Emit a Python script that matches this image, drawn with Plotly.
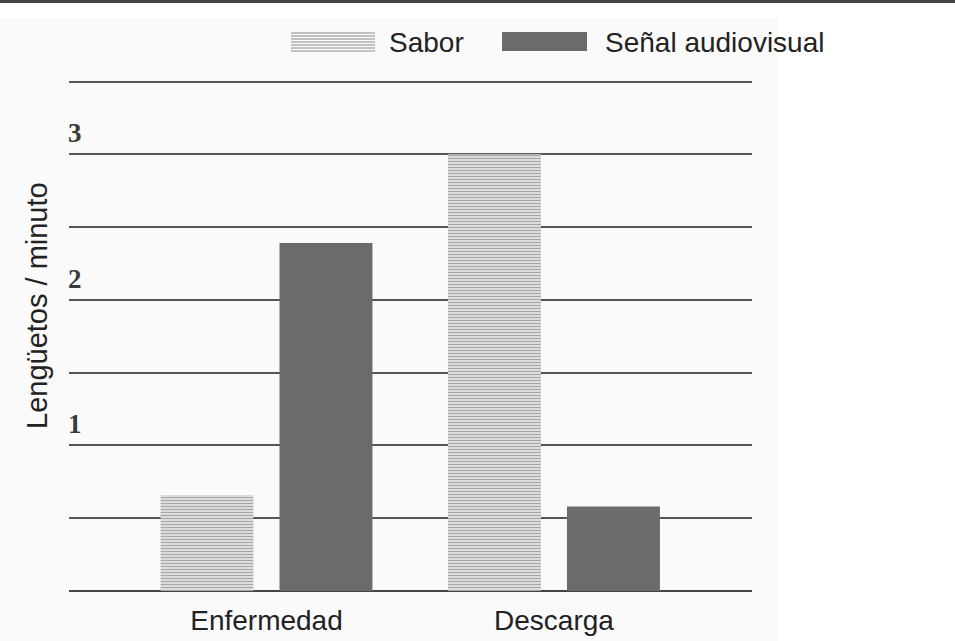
import plotly.graph_objects as go

categories = ["Enfermedad", "Descarga"]
sabor = [0.66, 3.0]
senal = [2.39, 0.58]
tick_values = [1, 2, 3]
tick_labels = ["1", "2", "3"]
series_names = ["Sabor", "Señal audiovisual"]
y_title = "Lengüetos / minuto"

W, H = 955, 641
ML, MR, MT, MB = 69, 203, 67, 50
PW, PH = W - ML - MR, H - MT - MB


def px(X):
    return (X - ML) / PW


def py(Y):
    return (H - MB - Y) / PH


SANS = "Liberation Sans, Arial, sans-serif"
SERIF = "Liberation Serif, Times New Roman, serif"

fig = go.Figure()
fig.add_trace(go.Bar(
    x=categories, y=sabor, name=series_names[0],
    marker=dict(color="white", line=dict(width=0),
                pattern=dict(shape="-", size=3, solidity=0.6,
                             fgcolor="#4f4f4f", bgcolor="white")),
    showlegend=False,
))
fig.add_trace(go.Bar(
    x=categories, y=senal, name=series_names[1],
    marker=dict(color="#6b6b6d", line=dict(width=0)),
    showlegend=False,
))

shapes = []
# faint scanned background
shapes.append(dict(type="rect", xref="paper", yref="paper", layer="below",
                   x0=px(0), x1=px(778), y0=py(641), y1=py(18),
                   fillcolor="#fafafa", line=dict(width=0)))
# top border
shapes.append(dict(type="line", xref="paper", yref="paper",
                   x0=px(0), x1=px(955), y0=py(1.5), y1=py(1.5),
                   line=dict(color="#444", width=3)))
# legend swatches
for i in range(7):
    yy = 33 + i * 3
    shapes.append(dict(type="line", xref="paper", yref="paper",
                       x0=px(291), x1=px(375), y0=py(yy), y1=py(yy),
                       line=dict(color="#8a8a8a", width=1.2)))
shapes.append(dict(type="rect", xref="paper", yref="paper",
                   x0=px(502), x1=px(587), y0=py(51), y1=py(32),
                   fillcolor="#6b6b6d", line=dict(width=0)))

annotations = []
annotations.append(dict(text=series_names[0], xref="paper", yref="paper",
                        x=px(387), y=py(42), xanchor="left", yanchor="middle",
                        showarrow=False, font=dict(family=SANS, size=28, color="#222")))
annotations.append(dict(text=series_names[1], xref="paper", yref="paper",
                        x=px(603), y=py(42), xanchor="left", yanchor="middle",
                        showarrow=False, font=dict(family=SANS, size=28, color="#222")))
annotations.append(dict(text=y_title, xref="paper", yref="paper",
                        x=px(37), y=py(306), xanchor="center", yanchor="middle",
                        textangle=-90, showarrow=False,
                        font=dict(family=SANS, size=29, color="#222")))
for v, t in zip(tick_values, tick_labels):
    annotations.append(dict(text="<b>" + t + "</b>", xref="paper", yref="y",
                            x=px(66), y=v, xanchor="left", yanchor="bottom",
                            yshift=4, showarrow=False,
                            font=dict(family=SERIF, size=27, color="#3a3a3a")))

fig.update_layout(
    width=W, height=H,
    margin=dict(l=ML, r=MR, t=MT, b=MB, autoexpand=False),
    paper_bgcolor="white", plot_bgcolor="rgba(0,0,0,0)",
    barmode="group", bargap=0.172, bargroupgap=0.219,
    shapes=shapes, annotations=annotations,
    showlegend=False,
)
fig.update_xaxes(range=[-0.687, 1.689], showgrid=False, zeroline=False,
                 showline=False, ticks="", ticklabelstandoff=10,
                 automargin=False,
                 tickfont=dict(family=SANS, size=28, color="#222"))
fig.update_yaxes(range=[0, 3.6], dtick=0.5, showticklabels=False,
                 showgrid=True, gridcolor="#555", gridwidth=2,
                 zeroline=True, zerolinecolor="#444", zerolinewidth=2,
                 showline=False, ticks="", automargin=False)

fig.write_html("out.html",
               config={"displayModeBar": False},
               post_script="document.body.style.margin='0';"
                           "document.body.style.padding='0';"
                           "document.body.style.overflow='hidden';")
